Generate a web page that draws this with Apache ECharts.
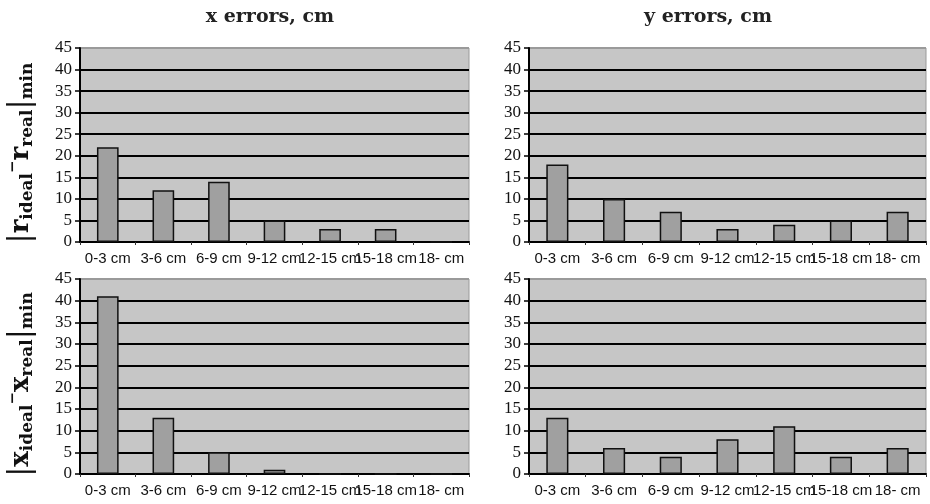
<!DOCTYPE html>
<html><head><meta charset="utf-8">
<script src="https://cdn.jsdelivr.net/npm/echarts@6/dist/echarts.min.js"></script>
<style>html,body{margin:0;padding:0;background:#fff}#c{width:930px;height:504px}</style>
</head><body><div id="c"></div>
<script>
const categories = ['0-3 cm','3-6 cm','6-9 cm','9-12 cm','12-15 cm','15-18 cm','18- cm'];
const rX = [22, 12, 14, 5, 3, 3, 0];
const rY = [18, 10, 7, 3, 4, 5, 7];
const xX = [41, 13, 5, 1, 0, 0, 0];
const xY = [13, 6, 4, 8, 11, 4, 6];
const yTicks = [0,5,10,15,20,25,30,35,40,45];
const titles = ['x errors, cm', 'y errors, cm'];

const grids = [
  {left:80, right:461, top:48, height:194},
  {left:529, right:4, top:48, height:194},
  {left:80, right:461, top:279, height:195},
  {left:529, right:4, top:279, height:195}
];
const seriesData = [rX, rY, xX, xY];
const richName = {
  bar:{fontSize:30, fontFamily:'DejaVu Serif', color:'#111', fontWeight:'normal'},
  m:{fontSize:26, fontFamily:'DejaVu Serif', fontWeight:'bold', color:'#111'},
  mn:{fontSize:15, fontFamily:'DejaVu Serif', fontWeight:'bold', color:'#111', verticalAlign:'top', padding:[0,0,10,0]},
  s:{fontSize:17, fontFamily:'DejaVu Serif', fontWeight:'bold', color:'#111', verticalAlign:'bottom', padding:[9,0,0,0]}
};
const names = [
  '{bar||}{m|r}{s|ideal}{mn|−}{m|r}{s|real}{bar||}{s|min}',
  '',
  '{bar||}{m|x}{s|ideal}{mn|−}{m|x}{s|real}{bar||}{s|min}',
  ''
];
const splitColors = ['#000','#000','#000','#000','#000','#000','#000','#000','#000','#9a9a9a'];
const option = {
  animation:false,
  backgroundColor:'#fff',
  title: [
    {text:titles[0], left:265, top:3, textAlign:'center', textStyle:{fontFamily:'DejaVu Serif', fontWeight:'bold', fontSize:19, color:'#222'}},
    {text:titles[1], left:703, top:3, textAlign:'center', textStyle:{fontFamily:'DejaVu Serif', fontWeight:'bold', fontSize:19, color:'#222'}}
  ],
  grid: grids.map(g => Object.assign({show:true, backgroundColor:'#c6c6c6', borderColor:'#9a9a9a', borderWidth:1}, g)),
  xAxis: grids.map((g,i) => ({
    type:'category', gridIndex:i, data:categories,
    axisLine:{lineStyle:{color:'#000', width:2}},
    axisTick:{show:true, length:3, inside:false, lineStyle:{color:'#333'}},
    axisLabel:{interval:0, color:'#111', fontFamily:'Liberation Sans', fontSize:15, margin:9, hideOverlap:false}
  })),
  yAxis: grids.map((g,i) => ({
    type:'value', gridIndex:i, min:0, max:45, interval:5,
    name:names[i], nameLocation:'middle', nameRotate:90, nameGap:44,
    nameTextStyle:{rich:richName, padding:[0,16,0,0]},
    axisLine:{show:true, lineStyle:{color:'#000', width:2}},
    axisTick:{show:true, length:5, lineStyle:{color:'#000', width:1.5}},
    axisLabel:{color:'#111', fontFamily:'Liberation Sans Narrow', fontSize:17, margin:8},
    splitLine:{show:true, lineStyle:{color:splitColors, width:2}}
  })),
  series: seriesData.map((d,i) => ({
    type:'bar', xAxisIndex:i, yAxisIndex:i, data:d, barWidth:'39%',
    itemStyle:{color:'#a0a0a0', borderColor:'#111', borderWidth:1.5}
  }))
};
const chart = echarts.init(document.getElementById('c'));
chart.setOption(option);
</script></body></html>
